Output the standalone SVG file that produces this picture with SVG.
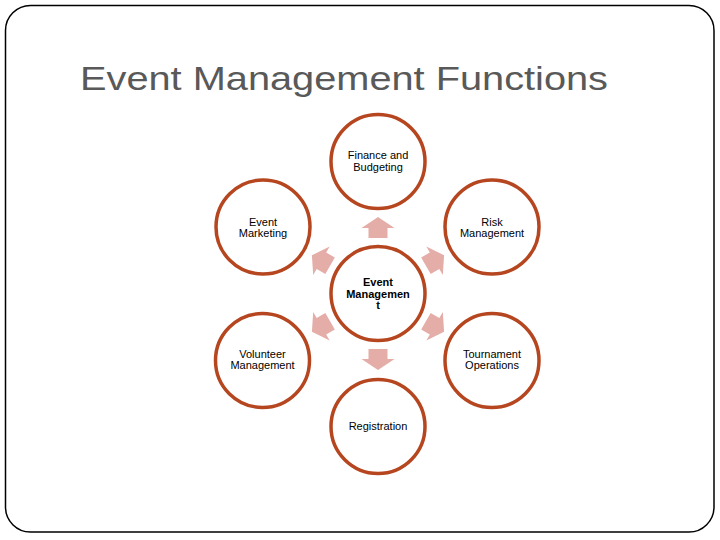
<svg xmlns="http://www.w3.org/2000/svg" width="720" height="540" viewBox="0 0 720 540">
<defs>
<style>
.frame{fill:#fff;stroke:#000;stroke-width:1.5}
.title{font-family:"Liberation Sans",Arial,sans-serif;font-size:34px;fill:#595959}
.node circle{fill:#fff;stroke:#B5461F;stroke-width:3.5}
.node text{font-family:"Liberation Sans",Arial,sans-serif;font-size:11px;fill:#000;text-anchor:middle}
.node text.b{font-weight:bold}
.arr{fill:#E5ADA8}
</style>
<polygon id="arrow" class="arr" points="0,-10.5 16.5,0.5 9.5,0.5 9.5,10.5 -9.5,10.5 -9.5,0.5 -16.5,0.5"/>
</defs>
<rect class="frame" x="5.5" y="5.5" width="708.5" height="526.5" rx="25" ry="25"/>
<text class="title" x="80" y="90" textLength="528" lengthAdjust="spacingAndGlyphs">Event Management Functions</text>
<g id="connectors">
<use href="#arrow" transform="translate(378,227.5)"/>
<use href="#arrow" transform="translate(378,359.5) rotate(180)"/>
<use href="#arrow" transform="translate(321,260.5) rotate(-60)"/>
<use href="#arrow" transform="translate(435,260.5) rotate(60)"/>
<use href="#arrow" transform="translate(321,326.5) rotate(-120)"/>
<use href="#arrow" transform="translate(435,326.5) rotate(120)"/>
</g>
<g id="finance" class="node">
<circle cx="378" cy="161.5" r="47"/>
<text x="378" y="158.5">Finance and</text>
<text x="378" y="170.5">Budgeting</text>
</g>
<g id="marketing" class="node">
<circle cx="263" cy="227" r="47"/>
<text x="263" y="225.5">Event</text>
<text x="263" y="237">Marketing</text>
</g>
<g id="risk" class="node">
<circle cx="492" cy="227" r="47"/>
<text x="492" y="225.5">Risk</text>
<text x="492" y="237">Management</text>
</g>
<g id="center" class="node">
<circle cx="378" cy="293.5" r="47"/>
<text class="b" x="378" y="286">Event</text>
<text class="b" x="378" y="297.5">Managemen</text>
<text class="b" x="378" y="309">t</text>
</g>
<g id="volunteer" class="node">
<circle cx="262.5" cy="360.5" r="47"/>
<text x="262.5" y="357.5">Volunteer</text>
<text x="262.5" y="369">Management</text>
</g>
<g id="tournament" class="node">
<circle cx="492" cy="360.5" r="47"/>
<text x="492" y="357.5">Tournament</text>
<text x="492" y="369">Operations</text>
</g>
<g id="registration" class="node">
<circle cx="378" cy="426.5" r="47"/>
<text x="378" y="430">Registration</text>
</g>
</svg>
